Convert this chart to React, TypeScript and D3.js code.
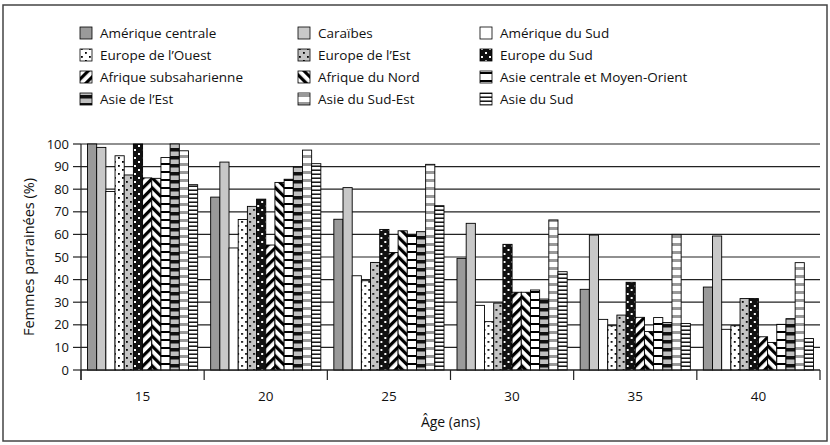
import React from 'react';
import * as d3 from 'd3';

// Age groups (x categories)
const ages = ['15', '20', '25', '30', '35', '40'];
const yTicks = [0, 10, 20, 30, 40, 50, 60, 70, 80, 90, 100];

// Series values (% of women sponsored), one value per age group
const ameriqueCentrale = [100, 76.5, 66.7, 49.4, 35.7, 36.7];
const caraibes = [98.5, 92, 80.7, 64.9, 59.7, 59.3];
const ameriqueSud = [79, 54, 41.7, 28.6, 22.4, 18];
const europeOuest = [94.8, 66.6, 39.5, 21.4, 19.6, 19.6];
const europeEst = [86.3, 72.4, 47.6, 29.6, 24.3, 31.6];
const europeSud = [100, 75.6, 62.2, 55.6, 38.8, 31.6];
const afriqueSubsaharienne = [85, 55.3, 52, 34.4, 23.3, 14.7];
const afriqueNord = [84.8, 83, 61.6, 34.4, 17, 12.2];
const asieCentrale = [94, 84.4, 60, 35.4, 23.2, 20.2];
const asieEst = [100, 89.8, 61.2, 31.4, 21, 22.7];
const asieSudEst = [97, 97.3, 91, 66.4, 60, 47.5];
const asieSud = [82, 91.3, 72.7, 43.5, 20.6, 13.9];

const series = [
  { name: 'Amérique centrale', values: ameriqueCentrale, fill: '#9a9a9a' },
  { name: 'Caraïbes', values: caraibes, fill: '#c8c8c8' },
  { name: 'Amérique du Sud', values: ameriqueSud, fill: '#ffffff' },
  { name: "Europe de l\u2019Ouest", values: europeOuest, fill: 'url(#p-eo)' },
  { name: "Europe de l\u2019Est", values: europeEst, fill: 'url(#p-ee)' },
  { name: 'Europe du Sud', values: europeSud, fill: 'url(#p-es)' },
  { name: 'Afrique subsaharienne', values: afriqueSubsaharienne, fill: 'url(#p-afss)' },
  { name: 'Afrique du Nord', values: afriqueNord, fill: 'url(#p-afn)' },
  { name: 'Asie centrale et Moyen-Orient', values: asieCentrale, fill: 'url(#p-asc)' },
  { name: "Asie de l\u2019Est", values: asieEst, fill: 'url(#p-ase)' },
  { name: 'Asie du Sud-Est', values: asieSudEst, fill: 'url(#p-asse)' },
  { name: 'Asie du Sud', values: asieSud, fill: 'url(#p-ass)' },
];

const W = 830;
const H = 445;
const font = '"Open Sans", "DejaVu Sans", sans-serif';

const App: React.FC = () => {
  const left = 81;
  const right = 820;
  const top = 144;
  const bottom = 370;

  const x0 = d3.scaleBand<string>().domain(ages).range([left, right]).padding(0);
  const x1 = d3.scaleBand<string>()
    .domain(series.map(s => s.name))
    .range([6.5, x0.bandwidth() - 6.5])
    .padding(0);
  const y = d3.scaleLinear().domain([0, 100]).range([bottom, top]);

  const boundaries = [...ages.map(a => x0(a) as number), right];

  const legendCols = [80, 298, 480];
  const legendRows = [33, 55, 77, 99];

  return (
    <svg width={W} height={H} style={{ position: 'absolute', left: 0, top: 0, background: '#fff' }}
      fontFamily={font}>
      <defs>
        <pattern id="p-eo" width="8" height="8" patternUnits="userSpaceOnUse">
          <rect width="8" height="8" fill="#fff" />
          <rect x="1" y="1" width="1.8" height="1.8" fill="#000" />
          <rect x="5" y="5" width="1.8" height="1.8" fill="#000" />
        </pattern>
        <pattern id="p-ee" width="8" height="8" patternUnits="userSpaceOnUse">
          <rect width="8" height="8" fill="#c4c4c4" />
          <rect x="1" y="1" width="1.8" height="1.8" fill="#000" />
          <rect x="5" y="5" width="1.8" height="1.8" fill="#000" />
        </pattern>
        <pattern id="p-es" width="8" height="8" patternUnits="userSpaceOnUse">
          <rect width="8" height="8" fill="#111" />
          <rect x="1" y="1" width="2" height="2" fill="#fff" />
          <rect x="5" y="5" width="2" height="2" fill="#fff" />
        </pattern>
        <pattern id="p-afss" width="7" height="7" patternUnits="userSpaceOnUse" patternTransform="rotate(45)">
          <rect width="7" height="7" fill="#fff" />
          <rect width="3.2" height="7" fill="#000" />
        </pattern>
        <pattern id="p-afn" width="7" height="7" patternUnits="userSpaceOnUse" patternTransform="rotate(-45)">
          <rect width="7" height="7" fill="#fff" />
          <rect width="3.2" height="7" fill="#000" />
        </pattern>
        <pattern id="p-asc" width="8" height="8" patternUnits="userSpaceOnUse">
          <rect width="8" height="8" fill="#fff" />
          <rect y="3" width="8" height="2" fill="#000" />
        </pattern>
        <pattern id="p-ase" width="8" height="8" patternUnits="userSpaceOnUse">
          <rect width="8" height="8" fill="#c0c0c0" />
          <rect y="4" width="8" height="3.5" fill="#111" />
        </pattern>
        <pattern id="p-asse" width="8" height="8" patternUnits="userSpaceOnUse">
          <rect width="8" height="8" fill="#fff" />
          <rect y="3" width="8" height="3" fill="#999" />
        </pattern>
        <pattern id="p-ass" width="4" height="4" patternUnits="userSpaceOnUse">
          <rect width="4" height="4" fill="#fff" />
          <rect y="1.5" width="4" height="1.4" fill="#000" />
        </pattern>
      </defs>

      {/* outer frame */}
      <rect x={3} y={5} width={824} height={436} fill="none" stroke="#444" strokeWidth={1.5} />

      {/* legend */}
      {series.map((s, i) => {
        const cx = legendCols[i % 3];
        const cy = legendRows[Math.floor(i / 3)];
        return (
          <g key={s.name} transform={`translate(${cx},${cy})`}>
            <rect x={0} y={-6} width={12} height={12} fill={s.fill} stroke="#000" strokeWidth={0.8} />
            <text x={20} y={0} dy="0.35em" fontSize={13.5} fill="#111">{s.name}</text>
          </g>
        );
      })}

      {/* gridlines */}
      {yTicks.map(t => (
        <line key={t} x1={left} x2={right} y1={y(t)} y2={y(t)} stroke="#222" strokeWidth={1.2} />
      ))}

      {/* bars */}
      {ages.map((a, ai) => (
        <g key={a} transform={`translate(${x0(a)},0)`}>
          {series.map(s => (
            <rect key={s.name}
              x={x1(s.name)}
              y={y(s.values[ai])}
              width={x1.bandwidth()}
              height={y(0) - y(s.values[ai])}
              fill={s.fill}
              stroke="#000"
              strokeWidth={0.9} />
          ))}
        </g>
      ))}

      {/* y axis */}
      <line x1={left} x2={left} y1={top} y2={bottom + 10} stroke="#222" strokeWidth={1.2} />
      {yTicks.map(t => (
        <g key={t}>
          <line x1={left - 8} x2={left} y1={y(t)} y2={y(t)} stroke="#222" strokeWidth={1.2} />
          <text x={left - 12} y={y(t)} dy="0.35em" textAnchor="end" fontSize={13} fill="#111">{t}</text>
        </g>
      ))}
      <text transform={`translate(34,${(top + bottom) / 2}) rotate(-90)`} textAnchor="middle"
        fontSize={14.5} fill="#111">Femmes parrainées (%)</text>

      {/* x axis */}
      <line x1={left} x2={right} y1={bottom} y2={bottom} stroke="#222" strokeWidth={1.2} />
      {boundaries.map((b, i) => (
        <line key={i} x1={b} x2={b} y1={bottom} y2={bottom + 10} stroke="#222" strokeWidth={1.2} />
      ))}
      {ages.map(a => (
        <text key={a} x={(x0(a) as number) + x0.bandwidth() / 2} y={396} dy="0.35em"
          textAnchor="middle" fontSize={13.5} fill="#111">{a}</text>
      ))}
      <text x={(left + right) / 2} y={422} dy="0.35em" textAnchor="middle" fontSize={14} fill="#111">Âge (ans)</text>
    </svg>
  );
};

export default App;
